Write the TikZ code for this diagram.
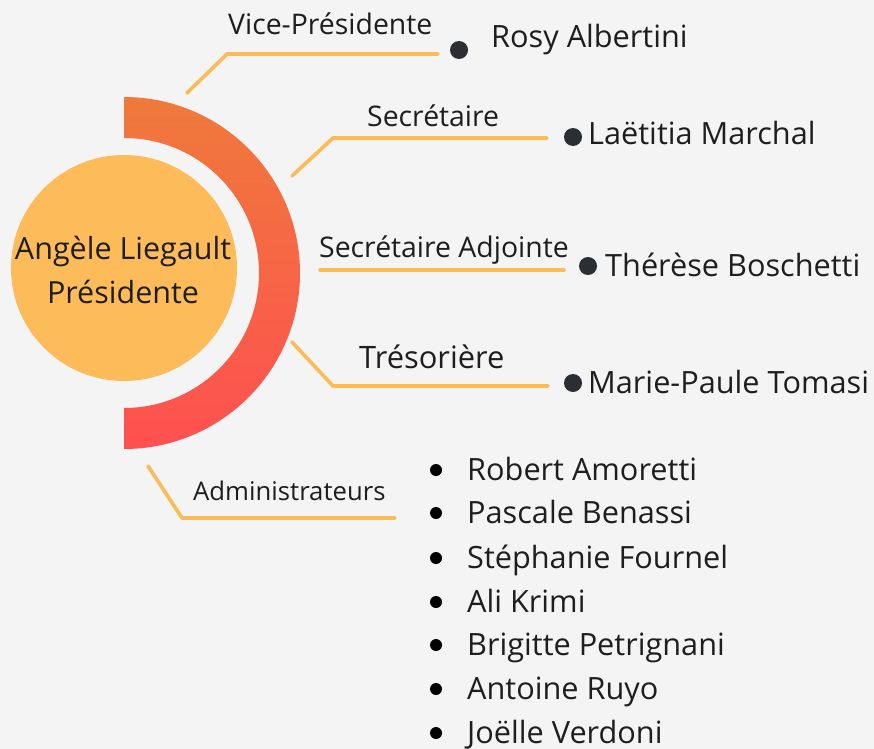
\documentclass[tikz,border=0pt]{standalone}
\usepackage{fontspec}
\setmainfont{Open Sans}
\definecolor{bg}{HTML}{F4F4F4}
\definecolor{disc}{HTML}{FEBB5A}
\definecolor{ringtop}{HTML}{EF7A3B}
\definecolor{ringbot}{HTML}{FE5050}
\definecolor{conn}{HTML}{FDBB55}
\definecolor{ink}{HTML}{1E1E1E}
\definecolor{dot}{HTML}{2B2F33}
\begin{document}
\begin{tikzpicture}[x=1bp,y=-1bp,
  connector/.style={draw=conn,line width=3.6bp,line cap=round,line join=round},
  role/.style={anchor=base west,inner sep=0pt,text=ink,font=\fontsize{28.5}{34}\selectfont},
  person/.style={anchor=base west,inner sep=0pt,text=ink,font=\fontsize{30.8}{36}\selectfont},
  admin/.style={anchor=base west,inner sep=0pt,text=ink,font=\fontsize{30.8}{36}\selectfont},
  bigdot/.style={circle,fill=dot,inner sep=0pt,minimum size=18bp},
  smalldot/.style={circle,fill=black,inner sep=0pt,minimum size=12bp}]
\fill[bg] (0,0) rectangle (874,749);
\useasboundingbox (0,0) rectangle (874,749);
% ring
\shade[top color=ringtop,bottom color=ringbot]
  (124,97) arc[start angle=-90,end angle=90,radius=176] -- (124,408)
  arc[start angle=90,end angle=-90,radius=135] -- cycle;
% central disc
\node[circle,fill=disc,minimum size=226bp,inner sep=0pt] (pres) at (124,268) {};
\node[anchor=base,inner sep=0pt,text=ink,font=\fontsize{30.6}{36}\selectfont] (presname) at (123,259) {Angèle Liegault};
\node[anchor=base,inner sep=0pt,text=ink,font=\fontsize{30.6}{36}\selectfont] (prestitle) at (123,303) {Présidente};
% connector coordinates
\coordinate (v1) at (187,93); \coordinate (v2) at (227,54); \coordinate (v3) at (438,54);
\coordinate (s1) at (292,176); \coordinate (s2) at (333,138); \coordinate (s3) at (547,138);
\coordinate (a1) at (320,270); \coordinate (a3) at (564,270);
\coordinate (t1) at (292,342); \coordinate (t2) at (333,386); \coordinate (t3) at (548,386);
\coordinate (d1) at (148,466); \coordinate (d2) at (182,518); \coordinate (d3) at (395,518);
\draw[connector] (v1) -- (v2) -- (v3);
\draw[connector] (s1) -- (s2) -- (s3);
\draw[connector] (a1) -- (a3);
\draw[connector] (t1) -- (t2) -- (t3);
\draw[connector] (d1) -- (d2) -- (d3);
% role labels
\node[role] (vice) at (228,35) {Vice-Présidente};
\node[role] (sec) at (367,126) {Secrétaire};
\node[role] (secadj) at (319,257) {Secrétaire Adjointe};
\node[role,font=\fontsize{31}{36}\selectfont] (tres) at (359,368) {Trésorière};
\node[role,font=\fontsize{25.8}{30}\selectfont] (adm) at (193,500) {Administrateurs};
% persons
\node[bigdot] (b1) at (459,50) {};
\node[person] (p1) at (491,48) {Rosy Albertini};
\node[bigdot] (b2) at (573,137) {};
\node[person] (p2) at (588,144) {Laëtitia Marchal};
\node[bigdot] (b3) at (588,266) {};
\node[person] (p3) at (605,276) {Thérèse Boschetti};
\node[bigdot] (b4) at (573,383) {};
\node[person] (p4) at (588,393) {Marie-Paule Tomasi};
% administrators
\foreach \nm/\yy [count=\i] in {Robert Amoretti/480,Pascale Benassi/523,Stéphanie Fournel/568,Ali Krimi/612,Brigitte Petrignani/655,Antoine Ruyo/699,Joëlle Verdoni/743}{
  \node[smalldot] (ab\i) at (436,\yy-10) {};
  \node[admin] (an\i) at (467,\yy) {\nm};
}
\end{tikzpicture}
\end{document}
